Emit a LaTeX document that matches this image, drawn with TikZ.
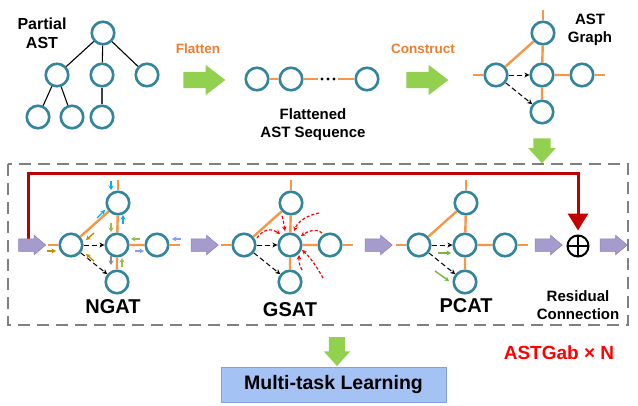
\documentclass[tikz,border=0pt]{standalone}
\usepackage{fontspec}
\setmainfont{Liberation Sans}
\usetikzlibrary{arrows.meta,shapes.arrows,calc}
\definecolor{teal1}{RGB}{49,133,156}
\definecolor{or1}{RGB}{247,150,70}
\definecolor{ortxt}{RGB}{237,125,49}
\definecolor{grn}{RGB}{146,208,80}
\definecolor{pur}{RGB}{166,155,205}
\definecolor{purd}{RGB}{140,125,185}
\definecolor{dred}{RGB}{192,0,0}
\definecolor{cy}{RGB}{0,176,240}
\definecolor{ol}{RGB}{155,187,89}
\definecolor{gold}{RGB}{191,144,0}
\definecolor{peri}{RGB}{130,160,240}
\definecolor{pgreen}{RGB}{120,180,70}
\definecolor{boxf}{RGB}{164,194,244}
\definecolor{boxd}{RGB}{130,160,220}
\definecolor{boxgray}{RGB}{128,128,128}
\pgfdeclarelayer{bg}
\pgfsetlayers{bg,main}
\newcommand\mygraph[3]{%
  \node[cn] (#1M) at (#2,#3) {};
  \node[cn] (#1L) at ({#2-46},#3) {};
  \node[cn] (#1R) at ({#2+40},#3) {};
  \node[cn] (#1T) at ({#2+1},{#3-42}) {};
  \node[cn] (#1B) at (#2,{#3+37}) {};
  \draw[oe] (#1T) -- (#1M) (#1T) -- (#1L) (#1M) -- (#1R) (#1M) -- (#1B);
  \draw[oe] (#1L.west) -- ++(-10,0) (#1R.east) -- ++(10,0) (#1T.north) -- ++(0,-10);
  \draw[dsh] (#1L) -- (#1M);
  \draw[dsh] (#1L) -- (#1B);
}
\newcommand\sar[4]{\draw[sarr,#1] ($(#2)+(#3)$) -- ++(#4);}
\newcommand\rcv[4]{\draw[rdash] ($(gM)+(#1)$) .. controls ($(gM)+(#2)$) and ($(gM)+(#3)$) .. ($(gM)+(#4)$);}
\begin{document}
\begin{tikzpicture}[x=1pt,y=-1pt,
  cn/.style={circle,draw=teal1,line width=2.6pt,fill=white,minimum size=22.5pt,inner sep=0pt},
  te/.style={draw=black,line width=1.1pt},
  oe/.style={draw=or1,line width=2.4pt},
  dsh/.style={draw=black,line width=1pt,dash pattern=on 5pt off 3pt,-{Stealth[length=5pt,width=5pt]}},
  sarr/.style={line width=1.4pt,-{Stealth[length=4.5pt,width=5pt]}},
  rdash/.style={draw=red,line width=1.2pt,dash pattern=on 3pt off 2pt,-{Stealth[length=4.5pt,width=4.5pt]}},
  garr/.style={single arrow,fill=grn,draw=none,inner xsep=0pt,inner ysep=8pt,single arrow head extend=7pt,single arrow tip angle=75,minimum height=42pt},
  gdown/.style={single arrow,fill=grn,draw=none,inner xsep=0pt,inner ysep=8.5pt,single arrow head extend=5pt,single arrow tip angle=84,rotate=-90},
  parr/.style={single arrow,fill=pur,draw=purd,line width=0.5pt,inner xsep=0pt,inner ysep=6pt,single arrow head extend=3.5pt,single arrow tip angle=80,minimum height=27pt},
  lbl/.style={font=\fontsize{16}{19}\selectfont\bfseries,align=center,inner sep=0pt},
  mlbl/.style={font=\fontsize{15}{18}\selectfont\bfseries,align=center,inner sep=0pt},
  olbl/.style={font=\fontsize{13.5}{16}\selectfont\bfseries,text=ortxt,inner sep=0pt},
  blbl/.style={font=\fontsize{20}{24}\selectfont\bfseries,inner sep=0pt}
]
\useasboundingbox (0,0) rectangle (638,405);

% ---------- partial AST tree ----------
\node[lbl] (tpa) at (42,33) {Partial\\AST};
\node[cn] (r) at (103,33) {};
\node[cn] (c1) at (57,75) {};
\node[cn] (c2) at (102,75) {};
\node[cn] (c3) at (147,75) {};
\node[cn] (g1) at (38,117) {};
\node[cn] (g2) at (72,117) {};
\node[cn] (g3) at (102,117) {};
\draw[te] (r) -- (c1) (r) -- (c2) (r) -- (c3) (c1) -- (g1) (c1) -- (g2);
\draw[draw=black!75,line width=1.5pt] (c2) -- (g3);

% ---------- flatten ----------
\node[olbl] (tfl) at (198,49) {Flatten};
\node[garr] (ga1) at (199,80) {};
\node[cn] (f1) at (257,79) {};
\node[cn] (f2) at (291,79) {};
\node[cn] (f3) at (367,79) {};
\node[inner sep=0pt,minimum width=20pt,minimum height=4pt] (dots) at (328,79) {};
\foreach \d in {-6,0,6} \fill[black] ($(dots.center)+(\d,0)$) circle (1.6);
\draw[oe] (f1) -- (f2) (f2) -- (dots) (dots) -- (f3);
\node[mlbl] (tfs) at (313,124.5) {Flattened\\AST Sequence};

% ---------- construct ----------
\node[olbl] (tco) at (423,49) {Construct};
\node[garr] (ga2) at (422,80) {};

% ---------- AST graph ----------
\mygraph{a}{542}{75}
\node[mlbl] (tag) at (590,30) {AST\\Graph};
\node[gdown,minimum height=25pt] (ga3) at (542,146) {};

% ---------- dashed block ----------
\draw[boxgray,line width=1.8pt,dash pattern=on 12pt off 7pt] (8,164) rectangle (628,325);

% purple arrows
\node[parr] (p1) at (28.5,245) {};
\node[parr] (p2) at (201,245) {};
\node[parr] (p3) at (375,245) {};
\node[parr] (p4) at (545,245) {};
\node[parr] (p5) at (610,245) {};

% oplus
\node[circle,draw=black,line width=2pt,minimum size=21pt,inner sep=0pt,
  path picture={\draw[line width=2pt] (path picture bounding box.north) -- (path picture bounding box.south)
  (path picture bounding box.west) -- (path picture bounding box.east);}] (oplus) at (578,246) {};

% residual red line
\coordinate (rc) at (28.5,173);
\begin{pgfonlayer}{bg}
\draw[dred,line width=3pt,-{Triangle[length=17pt,width=20pt]},shorten >=4pt] (p1.center) -- (rc) -| (oplus.north);
\end{pgfonlayer}

% NGAT
\mygraph{n}{117}{245}
\sar{cy}{nT}{-7,-22}{0,9}
\sar{cy}{nT}{-21,15}{8,-8}
\sar{cy}{nT}{5,21}{0,-9}
\sar{ol}{nM}{-6,-22}{0,9}
\sar{ol}{nM}{23,-6}{-9,0}
\sar{ol}{nM}{5,22}{0,-9}
\sar{black!45}{nM}{-6,11}{0,9}
\sar{gold}{nL}{-24,6}{9,0}
\sar{gold}{nL}{23,-12}{-8,7}
\sar{gold}{nL}{23,16}{-8,-7}
\sar{peri}{nR}{24,-6}{-9,0}
\sar{peri}{nR}{-22,6}{9,0}
\node[blbl] (tng) at (113,307) {NGAT};

% GSAT
\mygraph{g}{290}{245}
\rcv{-33,-7}{-27,-16}{-18,-17}{-10,-11}
\rcv{-8,-29}{-6,-24}{-6,-19}{-5,-14}
\rcv{29,-32}{18,-30}{8,-24}{4,-14}
\rcv{32,-12}{26,-17}{18,-14}{11,-9}
\rcv{33,33}{27,22}{20,12}{12,5}
\rcv{12,25}{9,20}{9,16}{9,10}
\node[blbl] (tgs) at (290,310) {GSAT};

% PCAT
\mygraph{q}{465}{245}
\sar{pgreen}{qM}{-27,8}{13,0}
\sar{pgreen}{qM}{-30,26}{14,10}
\node[blbl] (tpc) at (466,306) {PCAT};

\node[mlbl] (tres) at (578,305) {Residual\\Connection};

% bottom
\node[font=\fontsize{19}{22}\selectfont\bfseries,text=red,inner sep=0pt] (tn) at (559,353) {ASTGab × N};
\node[gdown,inner ysep=8pt,minimum height=29pt] (ga4) at (337,347) {};
\node[draw=boxd,fill=boxf,line width=0.8pt,minimum width=225pt,minimum height=35pt,inner sep=0pt,
  font=\fontsize{19.5}{22}\selectfont\bfseries] (mtl) at (333.5,384.5) {Multi-task Learning};
\end{tikzpicture}
\end{document}
